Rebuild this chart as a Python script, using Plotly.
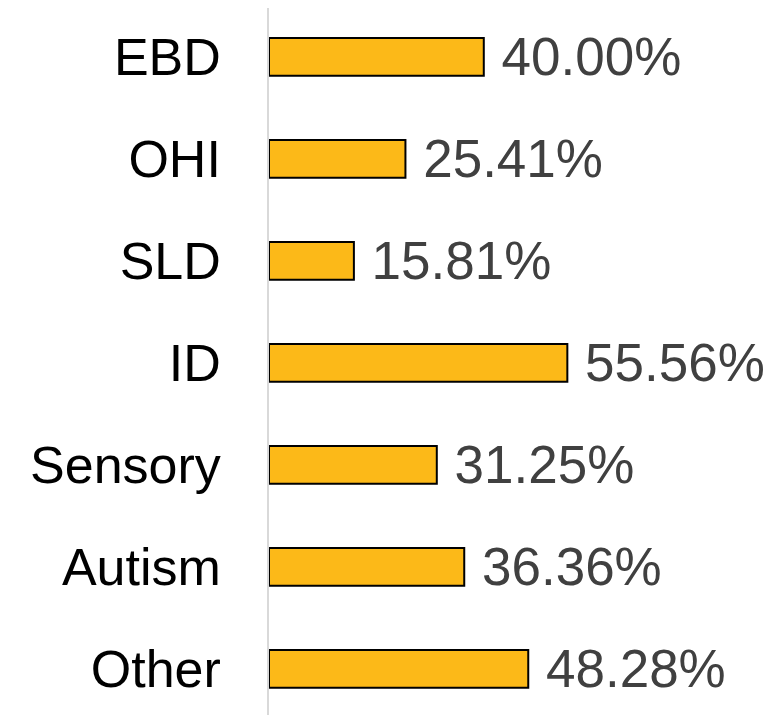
import plotly.graph_objects as go

categories = ["EBD", "OHI", "SLD", "ID", "Sensory", "Autism", "Other"]
values = [40.00, 25.41, 15.81, 55.56, 31.25, 36.36, 48.28]

FONT = "Arial, Liberation Sans, sans-serif"

# page body adds an 8px offset, so the figure is sized 8px smaller
fig = go.Figure(go.Bar(
    y=categories,
    x=values,
    orientation="h",
    width=0.37,
    marker=dict(color="#FCB918", line=dict(color="#000000", width=2)),
    texttemplate=" %{x:.2f}%",
    textposition="outside",
    constraintext="none",
    textfont=dict(family=FONT, size=53, color="#404040"),
    cliponaxis=False,
    hoverinfo="skip",
))

fig.update_yaxes(
    range=[6.451, -0.48],
    showline=True, linecolor="#d9d9d9", linewidth=1.5,
    showgrid=False, zeroline=False, automargin=False,
    tickfont=dict(family=FONT, size=52, color="#000000"),
    ticks="", ticklabelstandoff=36,
)
fig.update_xaxes(
    range=[0, 95.35], visible=False, showgrid=False, zeroline=False,
    automargin=False,
)
fig.update_layout(
    width=773, height=707,
    margin=dict(l=261, r=0, t=0, b=0),
    plot_bgcolor="white", paper_bgcolor="white",
    showlegend=False,
)

fig.write_html("out.html")
